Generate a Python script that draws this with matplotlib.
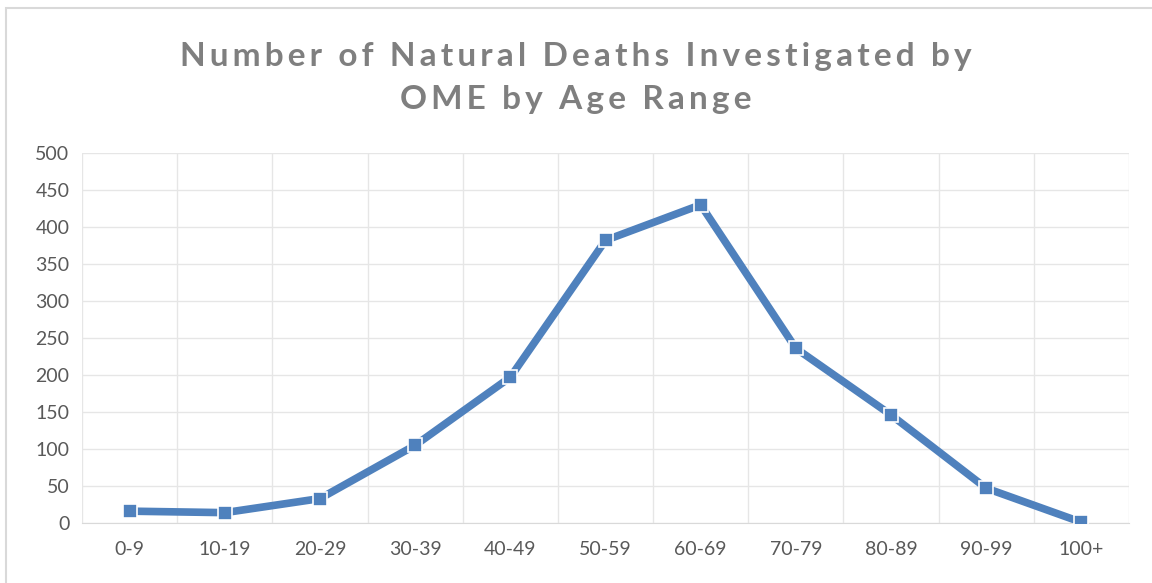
import matplotlib.pyplot as plt
from matplotlib.patches import Rectangle

age_ranges = ['0-9', '10-19', '20-29', '30-39', '40-49', '50-59',
              '60-69', '70-79', '80-89', '90-99', '100+']
deaths = [16, 14, 33, 105, 197, 382, 430, 236, 146, 47, 1]
y_ticks = [0, 50, 100, 150, 200, 250, 300, 350, 400, 450, 500]
title_lines = ['Number of Natural Deaths Investigated by', 'OME by Age Range']

plt.rcParams['font.family'] = ['Lato', 'DejaVu Sans']

fig = plt.figure(figsize=(11.52, 5.83), dpi=100)
ax = fig.add_axes([82/1152, 1 - 523/583, 1047/1152, 370/583])

x = list(range(len(age_ranges)))
ax.plot(x, deaths, color='#4f81bd', lw=5.5, marker='s', ms=10,
        mfc='#4f81bd', mec='white', mew=1.2, solid_joinstyle='round', zorder=3)

ax.set_xlim(-0.5, len(age_ranges) - 0.5)
ax.set_ylim(0, 500)
ax.set_yticks(y_ticks)
ax.set_xticks(x)
ax.set_xticklabels(age_ranges)
ax.set_xticks([i - 0.5 for i in range(len(age_ranges) + 1)], minor=True)
ax.grid(True, which='major', axis='y', color='#e6e6e6', lw=1)
ax.grid(True, which='minor', axis='x', color='#e6e6e6', lw=1)
ax.tick_params(axis='both', which='both', length=0, labelsize=14, labelcolor='#595959')
ax.tick_params(axis='x', pad=13)
ax.tick_params(axis='y', pad=9)
for s in ['top', 'right', 'left']:
    ax.spines[s].set_visible(False)
ax.spines['bottom'].set_color('#d9d9d9')

# spaced-out title, like the Excel original
spaced = ['\u2009'.join(line) for line in title_lines]
fig.text(0.5, 1 - 78/583, '\n'.join(spaced),
         ha='center', va='center', fontsize=24, fontweight='bold', color='#7f7f7f',
         linespacing=1.6)

fig.patches.append(Rectangle((6/1152, -0.1), 1.2, 1 - 8/583 + 0.1, transform=fig.transFigure,
                             fill=False, ec='#d9d9d9', lw=1.5))

fig.savefig('out.png', dpi=100)
